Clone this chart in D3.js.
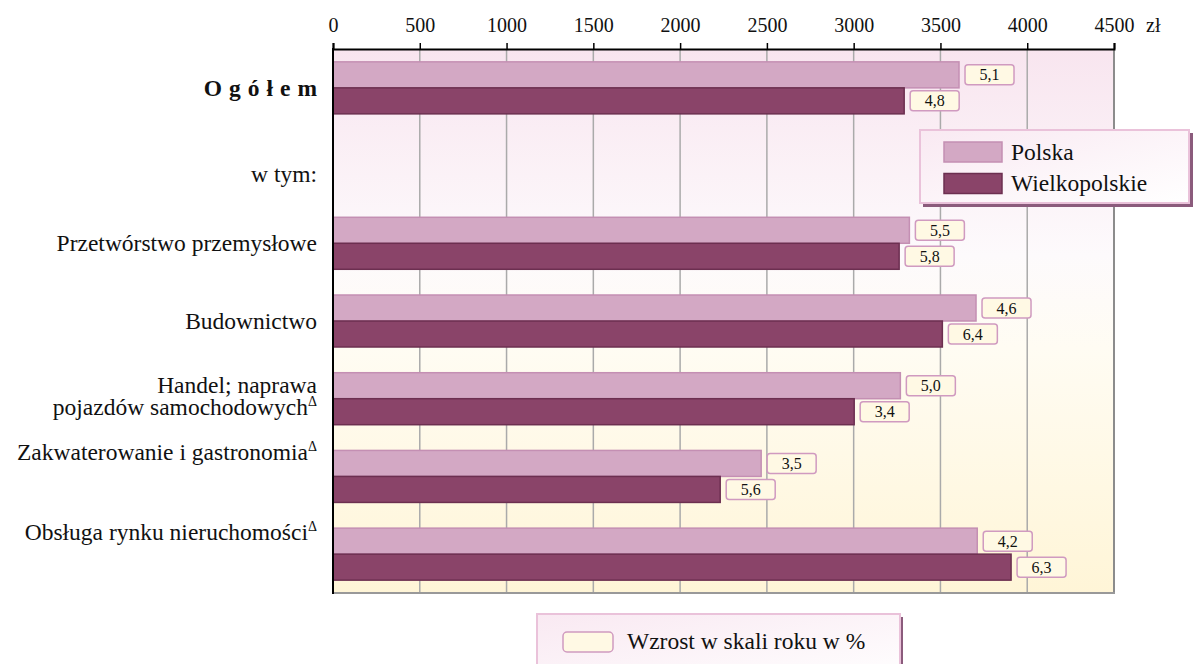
<!DOCTYPE html>
<html>
<head>
<meta charset="utf-8">
<script src="https://cdn.jsdelivr.net/npm/d3@7/dist/d3.min.js"></script>
<style>
  body { margin: 0; background: #fff; }
  text { font-family: "Liberation Serif", "Times New Roman", serif; fill: #111; }
</style>
</head>
<body>
<div id="chart"></div>
<script>
// data (zł, growth in %)
var categories = ["Ogółem", "w tym:", "Przetwórstwo przemysłowe", "Budownictwo",
  "Handel; naprawa pojazdów samochodowych", "Zakwaterowanie i gastronomia", "Obsługa rynku nieruchomości"];
var categoryLines = [["Ogółem"], ["w tym:"], ["Przetwórstwo przemysłowe"], ["Budownictwo"],
  ["Handel; naprawa", "pojazdów samochodowych"], ["Zakwaterowanie i gastronomia"], ["Obsługa rynku nieruchomości"]];
var footnote = [false, false, false, false, true, true, true];
var polska = [3607, null, 3321, 3705, 3269, 2467, 3712];
var wielkopolskie = [3291, null, 3262, 3511, 3003, 2231, 3907];
var polskaGrowth = ["5,1", null, "5,5", "4,6", "5,0", "3,5", "4,2"];
var wielkoGrowth = ["4,8", null, "5,8", "6,4", "3,4", "5,6", "6,3"];
var xTicks = [0, 500, 1000, 1500, 2000, 2500, 3000, 3500, 4000, 4500];
var seriesNames = ["Polska", "Wielkopolskie"];

var width = 1195, height = 664;
var plotLeft = 333, plotRight = 1114, plotTop = 49, plotBottom = 593;
var barH = 26;
var colPolska = "#d3a8c4", strokePolska = "#c48fb3";
var colWielko = "#8a4469", strokeWielko = "#6c2f50";

var svg = d3.select("#chart").append("svg")
  .attr("width", width)
  .attr("height", height);

var defs = svg.append("defs");
var bg = defs.append("linearGradient").attr("id", "bg")
  .attr("x1", 0).attr("y1", 0).attr("x2", 0).attr("y2", 1);
bg.append("stop").attr("offset", "0%").attr("stop-color", "#f8e5ef");
bg.append("stop").attr("offset", "38%").attr("stop-color", "#fdfafc");
bg.append("stop").attr("offset", "55%").attr("stop-color", "#fffcf3");
bg.append("stop").attr("offset", "100%").attr("stop-color", "#fff5d7");

var lg = defs.append("linearGradient").attr("id", "lg")
  .attr("x1", 0).attr("y1", 0).attr("x2", 1).attr("y2", 1);
lg.append("stop").attr("offset", "0%").attr("stop-color", "#f9e9f2");
lg.append("stop").attr("offset", "100%").attr("stop-color", "#ffffff");

var x = d3.scaleLinear().domain([0, 4500]).range([plotLeft, plotRight]);
var y = d3.scaleBand().domain(categories).range([plotTop, plotBottom]);

// plot background
svg.append("rect")
  .attr("x", plotLeft).attr("y", plotTop)
  .attr("width", plotRight - plotLeft).attr("height", plotBottom - plotTop)
  .attr("fill", "url(#bg)");

// grid
svg.append("g").selectAll("line")
  .data(xTicks.filter(function(d) { return d > 0; }))
  .enter().append("line")
    .attr("x1", function(d) { return x(d); })
    .attr("x2", function(d) { return x(d); })
    .attr("y1", plotTop).attr("y2", plotBottom)
    .attr("stroke", function(d) { return d === 4500 ? "#8c8c8c" : "#aaaaaa"; })
    .attr("stroke-width", function(d) { return d === 4500 ? 2 : 1.5; });

// bottom border
svg.append("line")
  .attr("x1", plotLeft).attr("x2", plotRight + 1)
  .attr("y1", plotBottom).attr("y2", plotBottom)
  .attr("stroke", "#999").attr("stroke-width", 2);

var rows = categories.map(function(c, i) {
  return {cat: c, p: polska[i], w: wielkopolskie[i], pg: polskaGrowth[i], wg: wielkoGrowth[i],
          lines: categoryLines[i], note: footnote[i]};
});
var withBars = rows.filter(function(d) { return d.p != null; });

// bars
svg.append("g").selectAll("rect")
  .data(withBars)
  .enter().append("rect")
    .attr("x", x(0))
    .attr("y", function(d) { return y(d.cat) + y.bandwidth() / 2 - barH; })
    .attr("width", function(d) { return x(d.p) - x(0); })
    .attr("height", barH)
    .attr("fill", colPolska)
    .attr("stroke", strokePolska)
    .attr("stroke-width", 1.5);

svg.append("g").selectAll("rect")
  .data(withBars)
  .enter().append("rect")
    .attr("x", x(0))
    .attr("y", function(d) { return y(d.cat) + y.bandwidth() / 2; })
    .attr("width", function(d) { return x(d.w) - x(0); })
    .attr("height", barH)
    .attr("fill", colWielko)
    .attr("stroke", strokeWielko)
    .attr("stroke-width", 1.5);

// growth labels
function growthBoxes(key, label, offset) {
  var g = svg.append("g").selectAll("g")
    .data(withBars)
    .enter().append("g")
      .attr("transform", function(d) {
        var cy = y(d.cat) + y.bandwidth() / 2 + offset;
        return "translate(" + (x(d[key]) + 6) + "," + cy + ")";
      });
  g.append("rect")
    .attr("x", 0).attr("y", -10)
    .attr("width", 49).attr("height", 20)
    .attr("rx", 3)
    .attr("fill", "#fff9e4")
    .attr("stroke", "#d09ac0")
    .attr("stroke-width", 1.5);
  g.append("text")
    .attr("x", 24.5).attr("y", 5.5)
    .attr("text-anchor", "middle")
    .style("font-size", "16px")
    .text(function(d) { return d[label]; });
}
growthBoxes("p", "pg", -barH / 2);
growthBoxes("w", "wg", barH / 2);

// left axis line
svg.append("line")
  .attr("x1", plotLeft).attr("x2", plotLeft)
  .attr("y1", plotTop - 1).attr("y2", plotBottom + 1)
  .attr("stroke", "#000").attr("stroke-width", 2);

// top axis
var axis = svg.append("g")
  .attr("transform", "translate(0," + plotTop + ")")
  .call(d3.axisTop(x).tickValues(xTicks).tickSize(6).tickPadding(11).tickFormat(function(d) { return d; }));
axis.select(".domain").attr("stroke", "#000").attr("stroke-width", 2);
axis.selectAll(".tick line").attr("stroke", "#000").attr("stroke-width", 1.5);
axis.selectAll(".tick text")
  .style("font-family", "'Liberation Serif', serif")
  .style("font-size", "20px")
  .attr("fill", "#111");
svg.append("text")
  .attr("x", 1146).attr("y", plotTop - 17)
  .style("font-size", "20px")
  .text("zł");

// category labels
var labelShift = {"w tym:": 8, "Handel; naprawa pojazdów samochodowych": -3,
  "Zakwaterowanie i gastronomia": -24, "Obsługa rynku nieruchomości": -22};
var lab = svg.append("g").selectAll("text")
  .data(rows)
  .enter().append("text")
    .attr("text-anchor", "end")
    .style("font-size", "23.5px")
    .attr("transform", function(d) {
      var n = d.lines.length;
      var cy = y(d.cat) + y.bandwidth() / 2 + (labelShift[d.cat] || 0) - (n - 1) * 11;
      return "translate(317," + (cy + 8) + ")";
    });
lab.each(function(d) {
  var t = d3.select(this);
  if (d.cat === "Ogółem") {
    t.style("font-weight", "bold").style("letter-spacing", "7px").attr("dx", 7).text(d.cat);
    return;
  }
  d.lines.forEach(function(line, i) {
    t.append("tspan").attr("x", 0).attr("y", i * 22).text(line);
  });
  if (d.note) {
    t.append("tspan").attr("dy", -9).style("font-size", "14px").text("Δ");
  }
});

// series legend
var leg = svg.append("g").attr("transform", "translate(920,130)");
leg.append("rect").attr("x", 3).attr("y", 3).attr("width", 270).attr("height", 74).attr("fill", "#8b5b7c");
leg.append("rect").attr("x", 0).attr("y", 0).attr("width", 269).attr("height", 73)
  .attr("fill", "url(#lg)").attr("stroke", "#eac2da").attr("stroke-width", 2);
var items = leg.selectAll(".item")
  .data(seriesNames)
  .enter().append("g")
    .attr("transform", function(d, i) { return "translate(24," + (12 + i * 31.5) + ")"; });
items.append("rect")
  .attr("width", 58).attr("height", 20)
  .attr("fill", function(d, i) { return i === 0 ? colPolska : colWielko; })
  .attr("stroke", function(d, i) { return i === 0 ? strokePolska : strokeWielko; })
  .attr("stroke-width", 1.5);
items.append("text")
  .attr("x", 67).attr("y", 17.5)
  .style("font-size", "23.5px")
  .text(function(d) { return d; });

// growth legend
var leg2 = svg.append("g").attr("transform", "translate(537,614)");
leg2.append("rect").attr("x", 3).attr("y", 3).attr("width", 363).attr("height", 70).attr("fill", "#8b5b7c");
leg2.append("rect").attr("x", 0).attr("y", 0).attr("width", 363).attr("height", 70)
  .attr("fill", "url(#lg)").attr("stroke", "#eac2da").attr("stroke-width", 2);
leg2.append("rect")
  .attr("x", 26).attr("y", 18).attr("width", 50).attr("height", 20).attr("rx", 4)
  .attr("fill", "#fff9e4").attr("stroke", "#d09ac0").attr("stroke-width", 1.5);
leg2.append("text")
  .attr("x", 90).attr("y", 35)
  .style("font-size", "23.5px")
  .text("Wzrost w skali roku w %");
</script>
</body>
</html>
